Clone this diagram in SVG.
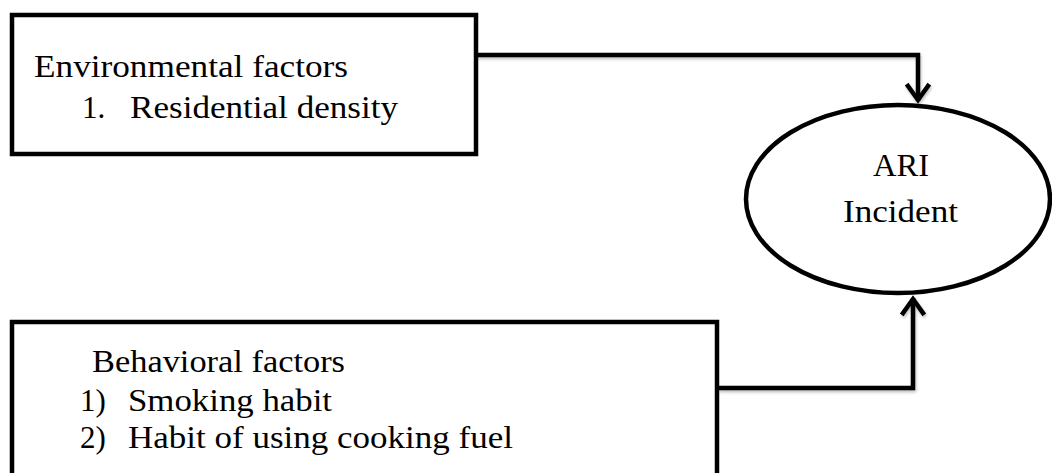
<svg xmlns="http://www.w3.org/2000/svg" width="1052" height="473" viewBox="0 0 1052 473">
  <style>
    .box { fill: #ffffff; stroke: #000000; stroke-width: 4.5; }
    .line { fill: none; stroke: #000000; stroke-width: 4.5; stroke-linejoin: miter; }
    .head { fill: none; stroke: #000000; stroke-width: 4.5; stroke-linecap: square; stroke-linejoin: miter; }
    .t { font-family: "Liberation Serif", "Times New Roman", serif; font-size: 31px; fill: #000000; }
  </style>
  <defs>
    <filter id="sh" x="-5%" y="-5%" width="110%" height="120%">
      <feDropShadow dx="1" dy="2" stdDeviation="1.5" flood-color="#000000" flood-opacity="0.25"/>
    </filter>
  </defs>
  <rect width="1052" height="473" fill="#ffffff"/>

  <g id="connectors" filter="url(#sh)">
    <path class="line" d="M476 55 H918 V101"/>
    <path class="head" d="M908 86 L918 100 L928 86"/>
    <path class="line" d="M718 388 H913 V298"/>
    <path class="head" d="M903 313 L913 299 L923 313"/>
  </g>

  <g id="environmental">
    <rect class="box" x="12" y="15" width="464" height="139"/>
    <text class="t" x="34" y="77" textLength="314" lengthAdjust="spacingAndGlyphs">Environmental factors</text>
    <text class="t" x="82" y="118">1.</text>
    <text class="t" x="130" y="118" textLength="268" lengthAdjust="spacingAndGlyphs">Residential density</text>
  </g>

  <g id="ari">
    <ellipse class="box" cx="898" cy="199" rx="152" ry="94"/>
    <text class="t" x="873" y="176" textLength="56" lengthAdjust="spacingAndGlyphs">ARI</text>
    <text class="t" x="843" y="222" textLength="115" lengthAdjust="spacingAndGlyphs">Incident</text>
  </g>

  <g id="behavioral">
    <rect class="box" x="12" y="322" width="705" height="170"/>
    <text class="t" x="92" y="372" textLength="253" lengthAdjust="spacingAndGlyphs">Behavioral factors</text>
    <text class="t" x="80" y="411">1)</text>
    <text class="t" x="128" y="411" textLength="204" lengthAdjust="spacingAndGlyphs">Smoking habit</text>
    <text class="t" x="80" y="448">2)</text>
    <text class="t" x="128" y="448" textLength="385" lengthAdjust="spacingAndGlyphs">Habit of using cooking fuel</text>
  </g>
</svg>
